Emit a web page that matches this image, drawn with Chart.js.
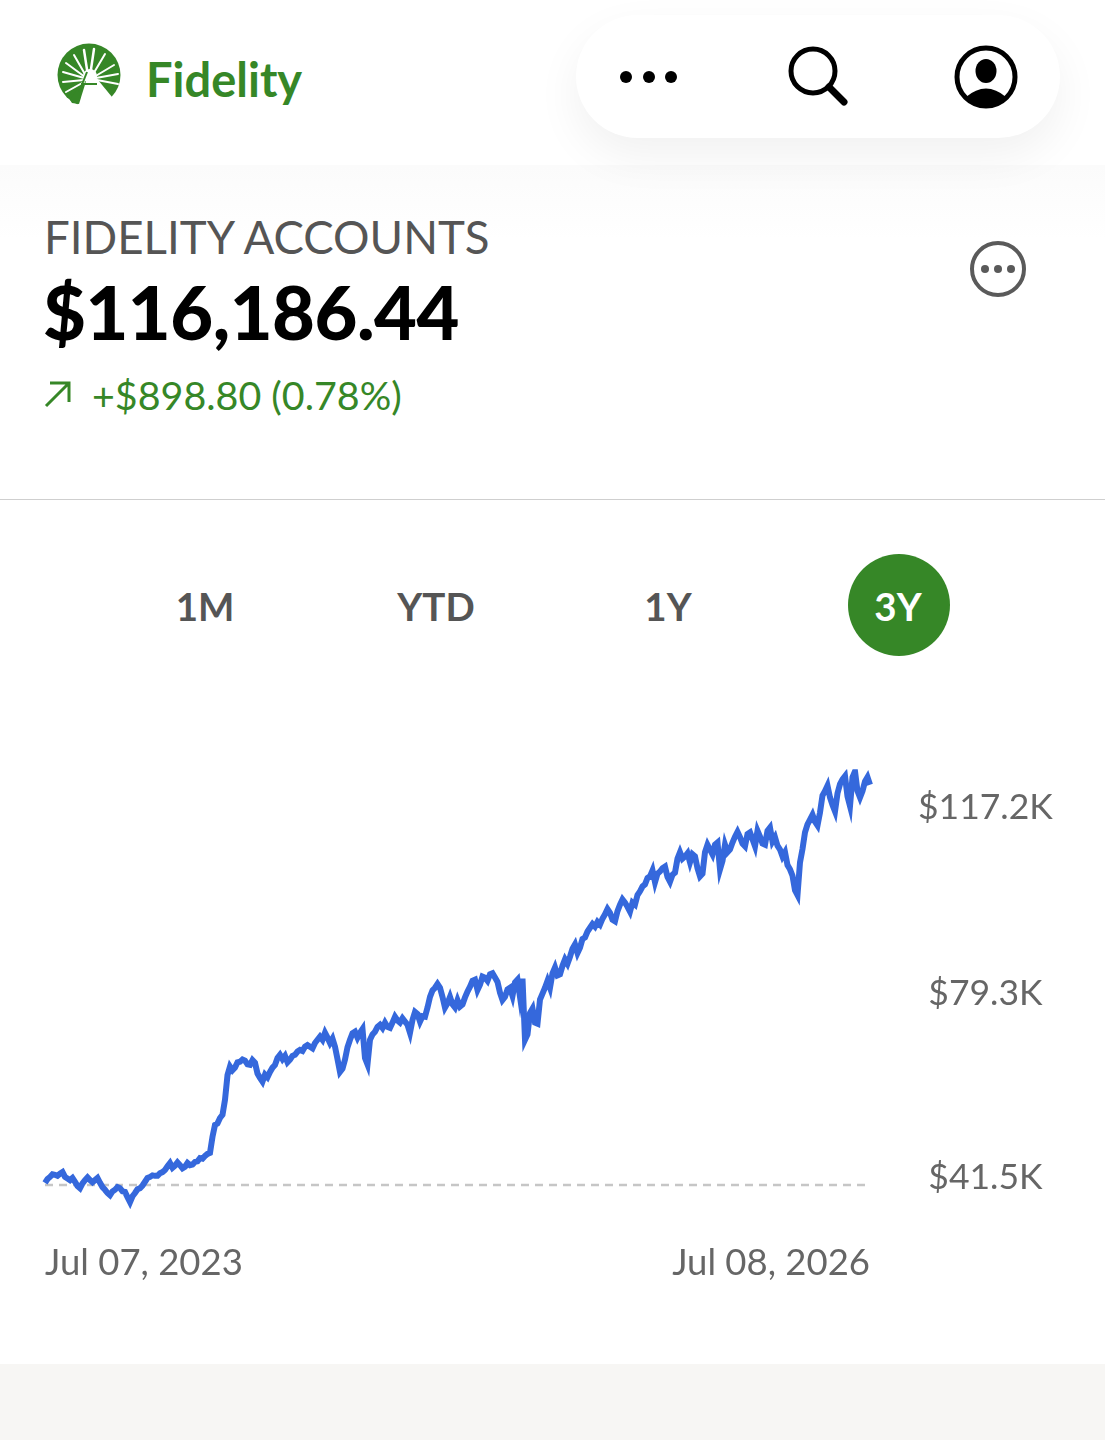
<!DOCTYPE html>
<html>
<head>
<meta charset="utf-8">
<script src="https://cdn.jsdelivr.net/npm/chart.js@4"></script>
<style>
html, body { margin: 0; padding: 0; background: #fff; }
body { width: 1105px; height: 1440px; position: relative; overflow: hidden; font-family: Lato, sans-serif; }
.abs { position: absolute; white-space: nowrap; }
#topShade { left: 0; top: 165px; width: 1105px; height: 75px; background: linear-gradient(#fbfbfb, #fff); }
#pill { left: 576px; top: 15px; width: 484px; height: 123px; border-radius: 62px; background: #fff; box-shadow: 0 18px 46px rgba(0,0,0,0.06); }
#brand { left: 146px; top: 49px; font-size: 47px; font-weight: 700; color: #368727; line-height: 60px; }
#title { left: 44px; top: 208px; font-size: 45.6px; color: #555; line-height: 58px; }
#amount { left: 43px; top: 267px; font-size: 74px; font-weight: 900; color: #000; line-height: 90px; letter-spacing: -0.5px; }
#change { left: 92px; top: 370px; font-size: 39.4px; color: #368727; line-height: 50px; }
#rule { left: 0; top: 499px; width: 1105px; height: 1px; background: #cfcfcf; }
.range { font-size: 38.5px; font-weight: 700; color: #555; line-height: 50px; transform: translateX(-50%); top: 581px; }
#activeRange { left: 848px; top: 554px; width: 102px; height: 102px; border-radius: 51px; background: #368727; }
#footer { left: 0; top: 1364px; width: 1105px; height: 76px; background: #f7f6f4; }
#chartBox { left: 0; top: 700px; }
</style>
</head>
<body>
<div class="abs" id="topShade"></div>
<div class="abs" id="pill"></div>

<svg class="abs" style="left:0;top:0" width="1105" height="500">
  <!-- logo -->
  <circle cx="89" cy="75" r="31.5" fill="#368727"/>
  <polygon points="87,72 76,110 114,110 112,97 98,80" fill="#fff"/>
  <polygon points="87,78 79,104 72,103 70,100 78,88" fill="#368727"/>
  <g stroke="#fff" stroke-linecap="round" fill="none">
    <path d="M88 76 L84 50" stroke-width="2.5"/>
    <path d="M90 76 L94 49" stroke-width="2.5"/>
    <path d="M86 76 L74 55" stroke-width="2"/>
    <path d="M92 76 L105 54" stroke-width="2"/>
    <path d="M85 77 L66 63" stroke-width="2"/>
    <path d="M94 77 L114 65" stroke-width="2"/>
    <path d="M84 78 L63 72" stroke-width="2"/>
    <path d="M96 78 L118 74" stroke-width="2"/>
    <path d="M84 80 L63 82" stroke-width="2"/>
    <path d="M97 80 L118 84" stroke-width="2"/>
    <path d="M84 82 L66 92" stroke-width="2"/>
  </g>
  <circle cx="90" cy="76" r="7" fill="#fff"/>
  <path d="M81 84 L97 84" stroke="#368727" stroke-width="2"/>
  <path d="M87 72 L79 92" stroke="#368727" stroke-width="2"/>
  <!-- header icons -->
  <circle cx="626" cy="77" r="6" fill="#000"/>
  <circle cx="649" cy="77" r="6" fill="#000"/>
  <circle cx="671" cy="77" r="6" fill="#000"/>
  <circle cx="813" cy="71" r="22" fill="none" stroke="#000" stroke-width="5"/>
  <path d="M829 87 L844 102" stroke="#000" stroke-width="7" stroke-linecap="round"/>
  <circle cx="986" cy="77" r="29" fill="none" stroke="#000" stroke-width="5"/>
  <ellipse cx="986" cy="71" rx="10.5" ry="12" fill="#000"/>
  <path d="M966 97 Q986 80 1006 97 A29 29 0 0 1 966 97 Z" fill="#000"/>
  <!-- account menu -->
  <circle cx="998" cy="269" r="26" fill="none" stroke="#5a5a5a" stroke-width="4"/>
  <circle cx="985" cy="269" r="4" fill="#5a5a5a"/>
  <circle cx="998" cy="269" r="4" fill="#5a5a5a"/>
  <circle cx="1011" cy="269" r="4" fill="#5a5a5a"/>
  <!-- up arrow -->
  <path d="M46 406 L69 383 M50 383 L69 383 L69 402" fill="none" stroke="#368727" stroke-width="3"/>
</svg>

<div class="abs" id="brand">Fidelity</div>
<div class="abs" id="title">FIDELITY ACCOUNTS</div>
<div class="abs" id="amount">$116,186.44</div>
<div class="abs" id="change">+$898.80 (0.78%)</div>
<div class="abs" id="rule"></div>

<div class="abs" id="activeRange"></div>
<div class="abs range" style="left:205px">1M</div>
<div class="abs range" style="left:436px">YTD</div>
<div class="abs range" style="left:668px">1Y</div>
<div class="abs range" style="left:898px;color:#fff">3Y</div>

<div class="abs" id="chartBox"><canvas id="balanceChart" width="1105" height="640"></canvas></div>
<div class="abs" id="footer"></div>

<script>
const firstDate = "Jul 07, 2023";
const lastDate = "Jul 08, 2026";

// balance in thousands of dollars left to right
const balance = [
    41.9,42.6, 43.0,43.5, 43.4,43.2, 43.6,43.9, 43.0,42.7, 42.4,42.8, 42.1,41.3, 40.9,41.8, 42.4,42.9, 42.4,42.0, 42.4,42.8, 41.9,41.1,
    40.6,40.0, 39.6,40.3, 40.6,41.1, 40.9,40.3, 40.2,39.2, 38.3,39.4, 40.0,40.7, 40.9,41.4, 42.1,42.8, 43.0,43.3, 43.2,43.2, 43.7,43.9,
    44.3,45.0, 45.6,44.7, 45.1,45.7, 45.2,44.6, 44.9,45.6, 45.2,45.3, 45.8,45.9, 46.5,46.4, 46.9,47.3, 47.5,50.5, 52.7,53.0, 54.0,54.6,
    57.4,62.0, 63.6,62.9, 63.4,64.4, 64.5,64.9, 64.7,64.0, 63.9,64.8, 64.3,62.3, 61.5,60.8, 62.1,61.6, 62.6,63.4, 63.9,65.2, 65.8,65.0,
    65.6,64.4, 64.9,65.6, 65.8,66.4, 66.7,66.5, 67.3,67.6, 67.3,67.0, 68.0,68.6, 69.2,68.6, 69.9,69.0, 68.0,68.8, 67.3,65.0, 62.6,63.2,
    64.9,67.2, 68.6,69.8, 70.1,69.0, 69.9,70.6, 65.2,64.0, 68.6,69.6, 70.1,71.0, 71.4,70.8, 71.8,71.0, 70.8,71.8, 72.9,72.2, 71.8,72.6,
    72.0,71.4, 69.9,72.3, 73.8,73.4, 72.0,73.0, 72.9,74.6, 76.6,77.8, 78.3,79.0, 78.3,76.6, 74.6,75.4, 76.6,75.2, 74.6,76.0, 74.8,75.2,
    76.5,77.6, 78.5,79.6, 79.8,77.9, 78.9,80.4, 80.2,79.6, 80.8,81.0, 80.2,79.4, 77.4,76.0, 76.6,78.0, 78.3,76.8, 79.3,79.8, 76.6,80.0,
    68.6,69.6, 73.6,74.4, 71.8,71.6, 76.1,77.2, 78.3,79.6, 78.3,81.0, 82.1,80.6, 80.8,82.4, 83.6,82.8, 84.1,85.6, 86.4,84.8, 85.8,87.4,
    87.7,88.8, 89.5,90.2, 89.7,90.6, 90.1,91.2, 92.0,93.0, 92.3,91.0, 90.7,92.6, 93.8,94.8, 94.2,93.4, 92.5,94.2, 93.8,95.6, 96.3,97.2,
    97.6,98.8, 99.1,100.2, 98.0,99.6, 100.0,100.6, 100.9,99.0, 98.1,99.4, 99.8,102.4, 103.6,102.4, 102.8,103.4, 101.7,103.2, 102.8,100.6, 99.1,99.6,
    103.6,105.0, 104.1,103.2, 105.0,105.4, 100.4,102.0, 105.0,103.6, 104.1,105.4, 106.5,107.4, 106.4,105.2, 104.7,107.0, 107.3,106.0, 104.7,107.6, 106.5,105.2,
    105.0,107.6, 108.2,105.6, 106.4,104.8, 104.1,102.8, 103.6,101.2, 100.4,99.2, 96.5,95.6, 101.7,104.2, 107.3,108.8, 109.7,110.6, 109.3,108.6, 111.0,114.2,
    115.0,116.0, 113.8,112.4, 111.2,114.6, 116.3,117.2, 117.8,114.0, 112.2,117.6, 118.7,115.0, 113.8,115.0, 116.8,117.6, 116.2
];
const baselineValue = 41.5;
const priceTicks = [41.5, 79.3, 117.2];

const labels = [];
const baseline = [];
for (let i = 0; i < balance.length; i++) {
    labels.push(i === 0 ? firstDate : (i === balance.length - 1 ? lastDate : ""));
    baseline.push(baselineValue);
}

new Chart(document.getElementById("balanceChart"), {
    type: "line",
    data: {
        labels: labels,
        datasets: [
            {
                label: "Balance",
                data: balance,
                borderColor: "#3568dc",
                borderWidth: 6,
                pointRadius: 0,
                tension: 0,
                borderJoinStyle: "miter",
                order: 1
            },
            {
                label: "Start",
                data: baseline,
                borderColor: "#c6c6c6",
                borderWidth: 2.5,
                borderDash: [8, 6],
                pointRadius: 0,
                order: 2
            }
        ]
    },
    options: {
        responsive: false,
        animation: false,
        layout: { padding: { top: 49, left: 45 } },
        plugins: { legend: { display: false }, tooltip: { enabled: false } },
        scales: {
            x: {
                grid: { display: false },
                border: { display: false },
                afterBuildTicks: function(axis) {
                    axis.ticks = [{ value: 0 }, { value: balance.length - 1 }];
                },
                afterFit: function(axis) { axis.height = 130; },
                ticks: {
                    autoSkip: false,
                    maxRotation: 0,
                    align: "inner",
                    padding: 23,
                    color: "#666",
                    font: { family: "Lato", size: 36.5 }
                }
            },
            y: {
                display: false,
                min: 36.83,
                max: 119.07
            },
            y1: {
                position: "right",
                min: 34.88,
                max: 125.13,
                grid: { display: false, drawTicks: false },
                border: { display: false },
                afterBuildTicks: function(axis) {
                    axis.ticks = priceTicks.map(function(v) { return { value: v }; });
                },
                afterFit: function(axis) { axis.width = 235; },
                ticks: {
                    crossAlign: "center",
                    padding: 48,
                    color: "#666",
                    font: { family: "Lato", size: 35.5 },
                    callback: function(value) { return "$" + value + "K"; }
                }
            }
        }
    }
});
</script>
</body>
</html>
